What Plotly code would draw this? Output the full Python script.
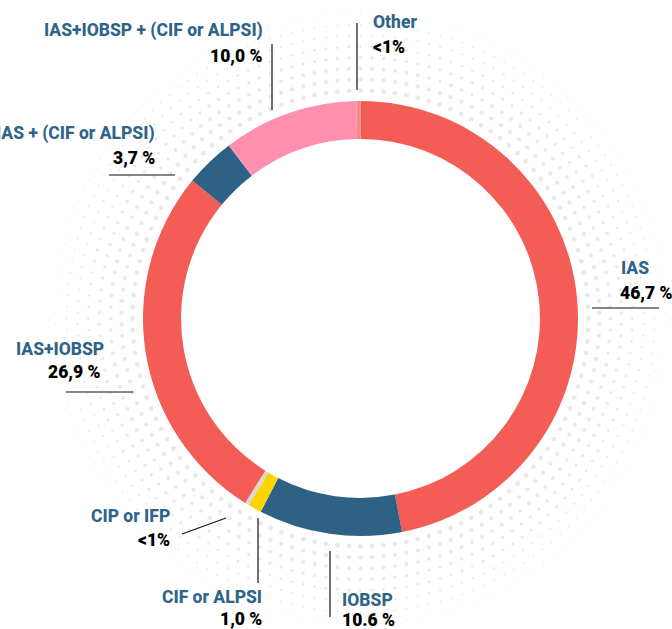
import numpy as np
import plotly.graph_objects as go

# ---- data ----
categories = ["IAS", "IOBSP", "CIF or ALPSI", "CIP or IFP", "IAS+IOBSP",
              "IAS + (CIF or ALPSI)", "IAS+IOBSP + (CIF or ALPSI)", "Other"]
values = [46.7, 10.6, 1.0, 0.3, 26.9, 3.7, 10.0, 0.3]
value_labels = ["46,7 %", "10.6 %", "1,0 %", "<1%", "26,9 %", "3,7 %", "10,0 %", "<1%"]
colors = ["#f45d55", "#2d6285", "#ffd400", "#d8d8d8", "#f45d55",
          "#2d6285", "#ff8fae", "#f58a83"]

W, H = 672, 629
CX, CY, R = 360.5, 318.5, 217.5

fig = go.Figure()

# decorative dotted halo
dx, dy, ds = [], [], []
for i, r in enumerate(np.arange(228, 310, 11)):
    n = int(2 * np.pi * r / 11.5)
    ang = np.linspace(0, 2 * np.pi, n, endpoint=False) + (i % 2) * np.pi / n
    dx.extend(CX + r * np.cos(ang))
    dy.extend(CY + r * np.sin(ang))
    ds.extend([max(4.8 - i * 0.5, 1.3)] * n)
fig.add_trace(go.Scatter(x=dx, y=dy, mode="markers", hoverinfo="skip",
                         marker=dict(size=ds, color="#e0e0e0", line=dict(width=0)),
                         showlegend=False))

fig.add_trace(go.Pie(
    labels=categories, values=values, sort=False, direction="clockwise",
    rotation=0, hole=0.825, textinfo="none", showlegend=False,
    marker=dict(colors=colors, line=dict(width=0)),
    domain=dict(x=[(CX - R) / W, (CX + R) / W], y=[1 - (CY + R) / H, 1 - (CY - R) / H]),
))

FONT = "Roboto, sans-serif"
BLUE = "#2e6488"

# label placement: (name x, name y, value x, value y, anchor)
label_pos = {
    "IAS": (619, 268, 618, 293, "left"),
    "IOBSP": (340, 600, 340, 620, "left"),
    "CIF or ALPSI": (264, 597, 264, 619, "right"),
    "CIP or IFP": (172, 516, 172, 540, "right"),
    "IAS+IOBSP": (14, 349, 103, 372, "left"),
    "IAS + (CIF or ALPSI)": (157, 133, 157, 158, "right"),
    "IAS+IOBSP + (CIF or ALPSI)": (265, 30, 265, 56, "right"),
    "Other": (371, 22, 371, 47, "left"),
}
leader_lines = [
    (592, 308, 659, 308), (330, 551, 330, 617), (258, 518, 258, 583),
    (182, 534, 226, 518), (66, 392, 133, 392), (109, 175, 175, 175),
    (272, 44, 272, 110), (357, 23, 357, 90),
]
for x0, y0, x1, y1 in leader_lines:
    fig.add_shape(type="line", x0=x0, y0=y0, x1=x1, y1=y1, xref="x", yref="y",
                  line=dict(color="#111111", width=1.2))

for cat, val in zip(categories, value_labels):
    nx, ny, vx, vy, anc = label_pos[cat]
    vanc = anc
    if cat == "IAS+IOBSP":
        vanc = "right"
    fig.add_annotation(x=nx, y=ny, xref="x", yref="y", text=cat, showarrow=False,
                       xanchor=anc, yanchor="middle",
                       font=dict(family=FONT, size=17.5, color=BLUE, weight=800))
    fig.add_annotation(x=vx, y=vy, xref="x", yref="y", text=val, showarrow=False,
                       xanchor=vanc, yanchor="middle",
                       font=dict(family=FONT, size=17.5, color="#000000", weight=900))

fig.update_layout(
    width=W, height=H, margin=dict(l=0, r=0, t=0, b=0),
    paper_bgcolor="white", plot_bgcolor="white",
    xaxis=dict(range=[0, W], visible=False, fixedrange=True),
    yaxis=dict(range=[H, 0], visible=False, fixedrange=True),
)
fig.write_html("out.html", config={"displayModeBar": False},
               post_script="document.body.style.margin='0';document.body.style.overflow='hidden';")
